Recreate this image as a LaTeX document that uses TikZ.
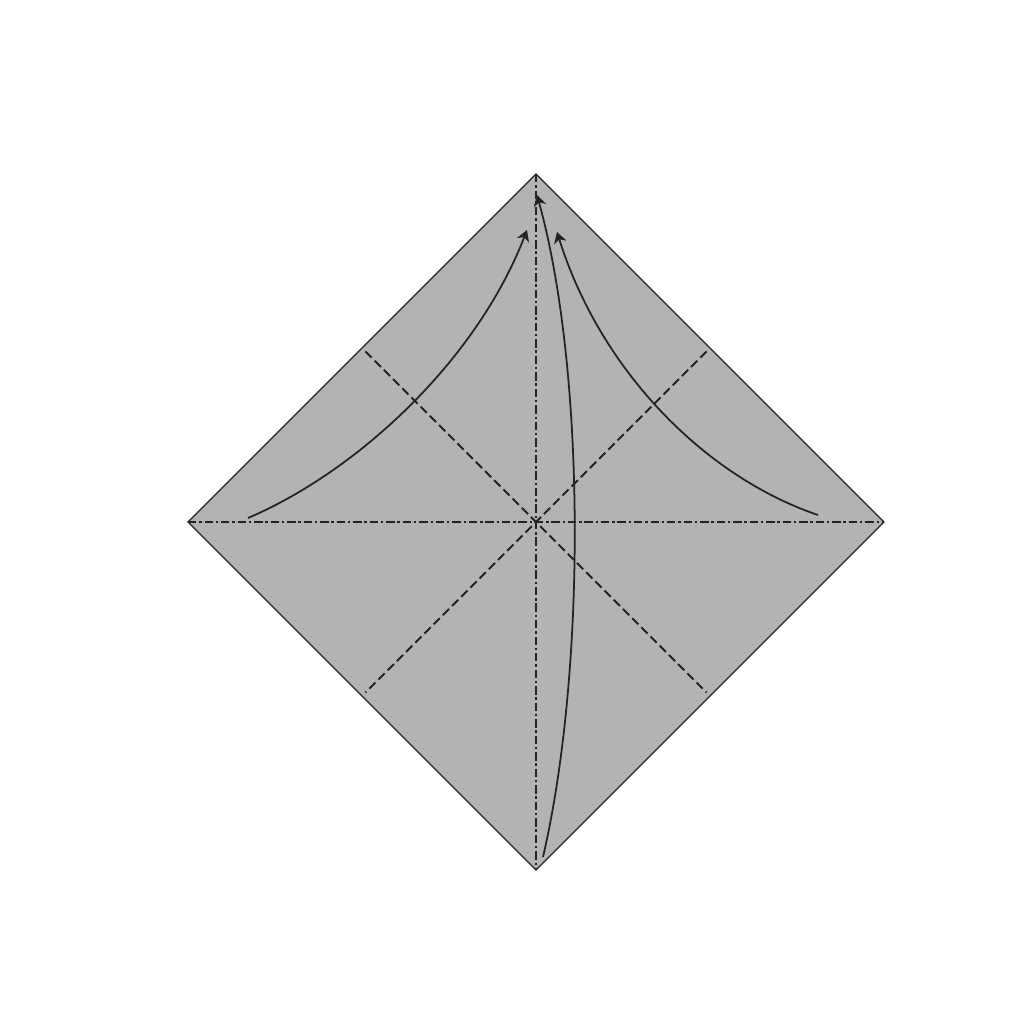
\documentclass[tikz,border=0pt]{standalone}
\usepackage{xcolor}
\usepackage{tikz}
\usetikzlibrary{calc,arrows.meta}
\definecolor{papergray}{RGB}{179, 179, 179}
\definecolor{inkdark}{RGB}{35, 35, 35}

\begin{document}
\begin{tikzpicture}[
    edgeline/.style={inkdark, line width=0.35pt},
    valleyline/.style={inkdark, line width=0.6pt, dash pattern=on 2.5pt off 1.2pt},
    mountainline/.style={inkdark, line width=0.6pt, dash pattern=on 2.4pt off 0.8pt on 0.7pt off 0.8pt},
    foldarrow/.style={inkdark, line width=0.5pt, -{Stealth[length=3.1pt, width=3.6pt, inset=0.9pt]}}
]
\useasboundingbox (-5.36,-5.02) rectangle (4.88,5.22);

% Corners of the square
\coordinate (top) at (0,3.48);
\coordinate (right) at (3.48,0);
\coordinate (bottom) at (0,-3.48);
\coordinate (left) at (-3.48,0);
\coordinate (centre) at (0,0);

% Paper
\fill[papergray] (top) -- (right) -- (bottom) -- (left) -- cycle;

% Valley folds through the edge midpoints
\coordinate (tlmid) at ($(top)!0.5!(left)$);
\coordinate (trmid) at ($(top)!0.5!(right)$);
\coordinate (blmid) at ($(bottom)!0.5!(left)$);
\coordinate (brmid) at ($(bottom)!0.5!(right)$);
\draw[valleyline] ($(tlmid)!0.01!(brmid)$) -- ($(brmid)!0.01!(tlmid)$);
\draw[valleyline] ($(trmid)!0.01!(blmid)$) -- ($(blmid)!0.01!(trmid)$);

% Mountain folds along the diagonals
\draw[mountainline] (top) -- (bottom);
\draw[mountainline] (left) -- (right);

% Outline
\draw[edgeline] (top) -- (right) -- (bottom) -- (left) -- cycle;

% Fold arrows
\coordinate (lstart) at (-2.88,0.04);
\coordinate (lend) at (-0.09,2.92);
\coordinate (rstart) at (2.82,0.07);
\coordinate (rend) at (0.21,2.90);
\coordinate (bstart) at (0.07,-3.35);
\coordinate (bend) at (0.01,3.27);

\draw[foldarrow] (lstart) .. controls (-1.8,0.5) and (-0.6,1.6) .. (lend);
\draw[foldarrow] (rstart) .. controls (1.7,0.45) and (0.65,1.5) .. (rend);
\draw[foldarrow] (bstart) .. controls (0.5,-1.5) and (0.5,1.5) .. (bend);
\end{tikzpicture}
\end{document}
